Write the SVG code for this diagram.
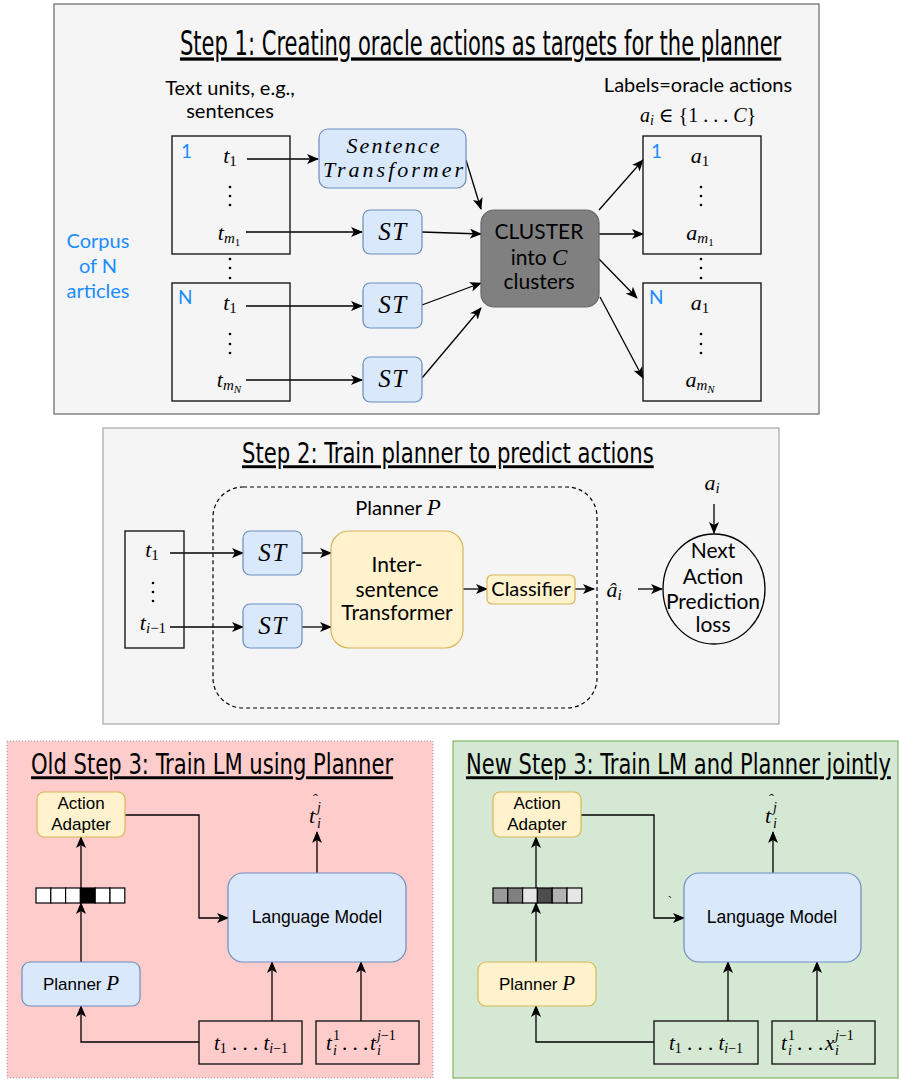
<svg xmlns="http://www.w3.org/2000/svg" width="899" height="1080" viewBox="0 0 899 1080">
<style>
.lato{font-family:Lato,"Liberation Sans",sans-serif;fill:#000}
.ar{font-family:"Liberation Sans",Arial,sans-serif;fill:#000}
.m{font-family:"Liberation Serif","DejaVu Serif",serif;font-style:italic;fill:#000}
.r{font-style:normal}
.blue{fill:#1a8cff}
.title{font-family:"DejaVu Sans Condensed","Liberation Sans Narrow",Roboto,sans-serif;text-decoration:underline;fill:#000}
.ln{stroke:#000;stroke-width:1.3;fill:none}
.blu{fill:#dae8fc;stroke:#6c8ebf;stroke-width:1.2}
.yel{fill:#fff2cc;stroke:#d6b656;stroke-width:1.2}
.box{fill:none;stroke:#1a1a1a;stroke-width:1.4}
.dot{fill:#000}
.st{letter-spacing:1.5px}
</style>
<defs>
<marker id="ah" viewBox="0 0 12 10" refX="11" refY="5" markerUnits="userSpaceOnUse" markerWidth="12" markerHeight="10" orient="auto">
<path d="M0,0 L12,5 L0,10 L3,5 Z" fill="#000"/>
</marker>
</defs>

<!-- Panels -->
<g id="panel1">
<rect x="54" y="4" width="765" height="410" fill="#f5f5f5" stroke="#666" stroke-width="1.2"/>
<text class="title" transform="translate(180,55) scale(0.65,1)" x="0" y="0" font-size="33" textLength="925" lengthAdjust="spacingAndGlyphs">Step 1: Creating oracle actions as targets for the planner</text>
</g>
<g id="panel2">
<rect x="103" y="428" width="676" height="296" fill="#f5f5f5" stroke="#a6a6a6" stroke-width="1.2"/>
<text class="title" transform="translate(242,463) scale(0.73,1)" x="0" y="0" font-size="29" textLength="564" lengthAdjust="spacingAndGlyphs">Step 2: Train planner to predict actions</text>
</g>
<g id="panel3old">
<rect x="7" y="741" width="426" height="337" fill="#ffcccc" stroke="#999" stroke-width="1" stroke-dasharray="1,2"/>
<text class="title" transform="translate(31,774) scale(0.73,1)" x="0" y="0" font-size="29" textLength="496" lengthAdjust="spacingAndGlyphs">Old Step 3: Train LM using Planner</text>
</g>
<g id="panel3new">
<rect x="453" y="741" width="445" height="337" fill="#d5e8d4" stroke="#82b366" stroke-width="1.2"/>
<text class="title" transform="translate(466,774) scale(0.73,1)" x="0" y="0" font-size="29" textLength="582" lengthAdjust="spacingAndGlyphs">New Step 3: Train LM and Planner jointly</text>
</g>

<!-- Connectors -->
<g id="connectors" class="ln">
<line x1="247" y1="159" x2="318" y2="159" marker-end="url(#ah)"/>
<line x1="246" y1="232" x2="362" y2="232" marker-end="url(#ah)"/>
<line x1="246" y1="306" x2="362" y2="306" marker-end="url(#ah)"/>
<line x1="246" y1="380" x2="362" y2="380" marker-end="url(#ah)"/>
<line x1="466" y1="160" x2="481" y2="209" marker-end="url(#ah)"/>
<line x1="422" y1="232" x2="481" y2="234" marker-end="url(#ah)"/>
<line x1="422" y1="305" x2="481" y2="283" marker-end="url(#ah)"/>
<line x1="422" y1="378" x2="481" y2="308" marker-end="url(#ah)"/>
<line x1="599" y1="210" x2="643" y2="160" marker-end="url(#ah)"/>
<line x1="599" y1="234" x2="643" y2="234" marker-end="url(#ah)"/>
<line x1="599" y1="259" x2="637" y2="298" marker-end="url(#ah)"/>
<line x1="600" y1="297" x2="643" y2="378" marker-end="url(#ah)"/>
<line x1="170" y1="553" x2="243" y2="553" marker-end="url(#ah)"/>
<line x1="170" y1="627" x2="243" y2="627" marker-end="url(#ah)"/>
<line x1="302" y1="553" x2="331" y2="553" marker-end="url(#ah)"/>
<line x1="302" y1="627" x2="331" y2="627" marker-end="url(#ah)"/>
<line x1="463" y1="589" x2="487" y2="589" marker-end="url(#ah)"/>
<line x1="575" y1="589" x2="594" y2="589" marker-end="url(#ah)"/>
<line x1="638" y1="589" x2="662" y2="589" marker-end="url(#ah)"/>
<line x1="714" y1="504" x2="714" y2="533" marker-end="url(#ah)"/>
<polyline points="125,815 199,815 199,918 228,918" marker-end="url(#ah)"/>
<line x1="81" y1="962" x2="81" y2="903" marker-end="url(#ah)"/>
<line x1="81" y1="888" x2="81" y2="837" marker-end="url(#ah)"/>
<polyline points="199,1042 81,1042 81,1006" marker-end="url(#ah)"/>
<line x1="272" y1="1021" x2="272" y2="962" marker-end="url(#ah)"/>
<line x1="361" y1="1021" x2="361" y2="962" marker-end="url(#ah)"/>
<line x1="317" y1="873" x2="317" y2="832" marker-end="url(#ah)"/>
<polyline points="581,815 654,815 654,918 684,918" marker-end="url(#ah)"/>
<line x1="536" y1="962" x2="536" y2="903" marker-end="url(#ah)"/>
<line x1="536" y1="888" x2="536" y2="837" marker-end="url(#ah)"/>
<polyline points="654,1042 536,1042 536,1006" marker-end="url(#ah)"/>
<line x1="728" y1="1021" x2="728" y2="962" marker-end="url(#ah)"/>
<line x1="817" y1="1021" x2="817" y2="962" marker-end="url(#ah)"/>
<line x1="773" y1="873" x2="773" y2="832" marker-end="url(#ah)"/>
</g>

<!-- Step 1 nodes -->
<g id="textunits-label">
<text class="lato" x="230" y="95" font-size="20" text-anchor="middle">Text units, e.g.,</text>
<text class="lato" x="230" y="118" font-size="20" text-anchor="middle">sentences</text>
</g>
<g id="corpus-label">
<text class="lato blue" x="98" y="248" font-size="20" text-anchor="middle">Corpus</text>
<text class="lato blue" x="98" y="273" font-size="20" text-anchor="middle">of N</text>
<text class="lato blue" x="98" y="298" font-size="20" text-anchor="middle">articles</text>
</g>
<g id="article1">
<rect class="box" x="172" y="136" width="118" height="118"/>
<text class="lato blue" x="181" y="158" font-size="19">1</text>
<text class="m" x="230" y="163" font-size="22" text-anchor="middle">t<tspan class="r" font-size="15" dy="3">1</tspan></text>
<circle class="dot" cx="230" cy="187" r="1.3"/><circle class="dot" cx="230" cy="196" r="1.3"/><circle class="dot" cx="230" cy="205" r="1.3"/>
<text class="m" x="229" y="240" font-size="22" text-anchor="middle">t<tspan font-size="15" dy="3">m</tspan><tspan class="r" font-size="11" dy="3">1</tspan></text>
</g>
<g id="between-dots">
<circle class="dot" cx="230" cy="259" r="1.3"/><circle class="dot" cx="230" cy="268" r="1.3"/><circle class="dot" cx="230" cy="278" r="1.3"/>
<circle class="dot" cx="701" cy="259" r="1.3"/><circle class="dot" cx="701" cy="268" r="1.3"/><circle class="dot" cx="701" cy="278" r="1.3"/>
</g>
<g id="articleN">
<rect class="box" x="172" y="283" width="118" height="118"/>
<text class="lato blue" x="178" y="304" font-size="19">N</text>
<text class="m" x="230" y="310" font-size="22" text-anchor="middle">t<tspan class="r" font-size="15" dy="3">1</tspan></text>
<circle class="dot" cx="230" cy="334" r="1.3"/><circle class="dot" cx="230" cy="344" r="1.3"/><circle class="dot" cx="230" cy="353" r="1.3"/>
<text class="m" x="229" y="387" font-size="22" text-anchor="middle">t<tspan font-size="15" dy="3">m</tspan><tspan font-size="11" dy="3">N</tspan></text>
</g>
<g id="sentence-transformer">
<rect class="blu" x="319" y="129" width="147" height="59" rx="9"/>
<text class="m" x="393" y="153" font-size="22" text-anchor="middle" textLength="93" lengthAdjust="spacing">Sentence</text>
<text class="m" x="393" y="177" font-size="22" text-anchor="middle" textLength="140" lengthAdjust="spacing">Transformer</text>
</g>
<g id="st1">
<rect class="blu" x="363" y="210" width="59" height="44" rx="7"/>
<text class="m st" x="393" y="240" font-size="25" text-anchor="middle">ST</text>
</g>
<g id="st2">
<rect class="blu" x="363" y="283" width="59" height="45" rx="7"/>
<text class="m st" x="393" y="313" font-size="25" text-anchor="middle">ST</text>
</g>
<g id="st3">
<rect class="blu" x="363" y="357" width="59" height="45" rx="7"/>
<text class="m st" x="393" y="387" font-size="25" text-anchor="middle">ST</text>
</g>
<g id="cluster">
<rect x="481" y="210" width="118" height="97" rx="13" fill="#808080" stroke="#666" stroke-width="1.2"/>
<text class="lato" x="539" y="239" font-size="21" text-anchor="middle" fill="#1a1a1a">CLUSTER</text>
<text class="lato" x="539" y="265" font-size="21" text-anchor="middle">into <tspan class="m" font-size="23">C</tspan></text>
<text class="lato" x="539" y="289" font-size="21" text-anchor="middle">clusters</text>
</g>
<g id="labels-label">
<text class="lato" x="698" y="92" font-size="20" text-anchor="middle">Labels=oracle actions</text>
<text class="m" x="698" y="122" font-size="20" text-anchor="middle">a<tspan font-size="14" dy="3">i</tspan><tspan class="r" dy="-3"> ∈ {1 . . . </tspan>C<tspan class="r">}</tspan></text>
</g>
<g id="labels1">
<rect class="box" x="643" y="136" width="118" height="118"/>
<text class="lato blue" x="651" y="158" font-size="19">1</text>
<text class="m" x="700" y="163" font-size="22" text-anchor="middle">a<tspan class="r" font-size="15" dy="3">1</tspan></text>
<circle class="dot" cx="701" cy="187" r="1.3"/><circle class="dot" cx="701" cy="196" r="1.3"/><circle class="dot" cx="701" cy="205" r="1.3"/>
<text class="m" x="700" y="240" font-size="22" text-anchor="middle">a<tspan font-size="15" dy="3">m</tspan><tspan class="r" font-size="11" dy="3">1</tspan></text>
</g>
<g id="labelsN">
<rect class="box" x="643" y="283" width="118" height="118"/>
<text class="lato blue" x="649" y="304" font-size="19">N</text>
<text class="m" x="700" y="310" font-size="22" text-anchor="middle">a<tspan class="r" font-size="15" dy="3">1</tspan></text>
<circle class="dot" cx="701" cy="334" r="1.3"/><circle class="dot" cx="701" cy="344" r="1.3"/><circle class="dot" cx="701" cy="353" r="1.3"/>
<text class="m" x="700" y="387" font-size="22" text-anchor="middle">a<tspan font-size="15" dy="3">m</tspan><tspan font-size="11" dy="3">N</tspan></text>
</g>

<!-- Step 2 nodes -->
<g id="planner-group">
<rect x="213" y="487" width="384" height="221" rx="30" fill="none" stroke="#000" stroke-width="1.2" stroke-dasharray="4,3"/>
<text class="lato" x="398" y="515" font-size="20" text-anchor="middle">Planner <tspan class="m" font-size="23">P</tspan></text>
</g>
<g id="s2-inputs">
<rect class="box" x="125" y="531" width="59" height="117"/>
<text class="m" x="152" y="557" font-size="22" text-anchor="middle">t<tspan class="r" font-size="15" dy="3">1</tspan></text>
<circle class="dot" cx="153" cy="583" r="1.3"/><circle class="dot" cx="153" cy="592" r="1.3"/><circle class="dot" cx="153" cy="601" r="1.3"/>
<text class="m" x="153" y="630" font-size="22" text-anchor="middle">t<tspan font-size="15" dy="3">i</tspan><tspan class="r" font-size="15">−1</tspan></text>
</g>
<g id="s2-st1">
<rect class="blu" x="243" y="531" width="59" height="44" rx="7"/>
<text class="m st" x="273" y="561" font-size="25" text-anchor="middle">ST</text>
</g>
<g id="s2-st2">
<rect class="blu" x="243" y="604" width="59" height="44" rx="7"/>
<text class="m st" x="273" y="634" font-size="25" text-anchor="middle">ST</text>
</g>
<g id="inter-sentence">
<rect class="yel" x="331" y="531" width="132" height="117" rx="18"/>
<text class="lato" x="397" y="572" font-size="21" text-anchor="middle">Inter-</text>
<text class="lato" x="397" y="597" font-size="21" text-anchor="middle">sentence</text>
<text class="lato" x="397" y="620" font-size="21" text-anchor="middle">Transformer</text>
</g>
<g id="classifier">
<rect class="yel" x="487" y="575" width="88" height="29" rx="5"/>
<text class="lato" x="531" y="596" font-size="20" text-anchor="middle">Classifier</text>
</g>
<g id="ahat">
<text class="m" x="614" y="597" font-size="22" text-anchor="middle">â<tspan font-size="15" dy="3">i</tspan></text>
</g>
<g id="loss">
<ellipse cx="714" cy="589" rx="51" ry="55" fill="none" stroke="#000" stroke-width="1.3"/>
<text class="lato" x="713" y="558" font-size="21" text-anchor="middle">Next</text>
<text class="lato" x="713" y="584" font-size="21" text-anchor="middle">Action</text>
<text class="lato" x="713" y="609" font-size="21" text-anchor="middle">Prediction</text>
<text class="lato" x="713" y="632" font-size="21" text-anchor="middle">loss</text>
</g>
<g id="ai-target">
<text class="m" x="712" y="490" font-size="22" text-anchor="middle">a<tspan font-size="15" dy="3">i</tspan></text>
</g>

<!-- Old step 3 nodes -->
<g id="old-adapter">
<rect class="yel" x="37" y="792" width="88" height="45" rx="7"/>
<text class="ar" x="81" y="809" font-size="17" text-anchor="middle">Action</text>
<text class="ar" x="81" y="830" font-size="17" text-anchor="middle">Adapter</text>
</g>
<g id="old-vector" stroke="#000" stroke-width="1.2">
<rect x="36" y="888" width="14.8" height="15" fill="#fff"/>
<rect x="50.8" y="888" width="14.8" height="15" fill="#fff"/>
<rect x="65.6" y="888" width="14.8" height="15" fill="#fff"/>
<rect x="80.4" y="888" width="14.8" height="15" fill="#000"/>
<rect x="95.2" y="888" width="14.8" height="15" fill="#fff"/>
<rect x="110" y="888" width="14.8" height="15" fill="#fff"/>
</g>
<g id="old-planner">
<rect class="blu" x="22" y="962" width="118" height="44" rx="8"/>
<text class="ar" x="81" y="990" font-size="17" text-anchor="middle">Planner <tspan class="m" font-size="21">P</tspan></text>
</g>
<g id="old-lm">
<rect class="blu" x="228" y="873" width="178" height="89" rx="15"/>
<text class="ar" x="317" y="923" font-size="17.5" text-anchor="middle">Language Model</text>
</g>
<g id="old-out">
<text class="m" x="309" y="823" font-size="22">t</text>
<text class="m" x="317" y="812" font-size="14">j</text>
<text class="m" x="317" y="828" font-size="14">i</text>
<text class="m r" x="313" y="804" font-size="15">ˆ</text>
</g>
<g id="old-in1">
<rect class="box" x="199" y="1021" width="103" height="43"/>
<text class="m" x="251" y="1050" font-size="21" text-anchor="middle">t<tspan class="r" font-size="14" dy="3">1</tspan><tspan class="r" dy="-3"> . . . </tspan>t<tspan font-size="14" dy="3">i</tspan><tspan class="r" font-size="14">−1</tspan></text>
</g>
<g id="old-in2">
<rect class="box" x="316" y="1021" width="103" height="43"/>
<text class="m" x="326" y="1050" font-size="21">t</text>
<text class="r m" x="333" y="1040" font-size="14">1</text>
<text class="m" x="333" y="1055" font-size="14">i</text>
<text class="r m" x="342" y="1050" font-size="21">. . . </text>
<text class="m" x="370" y="1050" font-size="21">t</text>
<text class="m" x="377" y="1040" font-size="14">j<tspan class="r">−1</tspan></text>
<text class="m" x="377" y="1055" font-size="14">i</text>
</g>

<!-- New step 3 nodes -->
<g id="new-adapter">
<rect class="yel" x="493" y="792" width="88" height="45" rx="7"/>
<text class="ar" x="537" y="809" font-size="17" text-anchor="middle">Action</text>
<text class="ar" x="537" y="830" font-size="17" text-anchor="middle">Adapter</text>
</g>
<g id="new-vector" stroke="#000" stroke-width="1.2">
<rect x="493" y="888" width="14.8" height="15" fill="#999"/>
<rect x="507.8" y="888" width="14.8" height="15" fill="#808080"/>
<rect x="522.6" y="888" width="14.8" height="15" fill="#e6e6e6"/>
<rect x="537.4" y="888" width="14.8" height="15" fill="#4d4d4d"/>
<rect x="552.2" y="888" width="14.8" height="15" fill="#b3b3b3"/>
<rect x="567" y="888" width="14.8" height="15" fill="#e6e6e6"/>
</g>
<g id="new-planner">
<rect class="yel" x="478" y="962" width="118" height="44" rx="8"/>
<text class="ar" x="537" y="990" font-size="17" text-anchor="middle">Planner <tspan class="m" font-size="21">P</tspan></text>
</g>
<g id="new-lm">
<rect class="blu" x="684" y="873" width="177" height="89" rx="15"/>
<text class="ar" x="772" y="923" font-size="17.5" text-anchor="middle">Language Model</text>
<text class="ar" x="668" y="906" font-size="12">`</text>
</g>
<g id="new-out">
<text class="m" x="765" y="823" font-size="22">t</text>
<text class="m" x="773" y="812" font-size="14">j</text>
<text class="m" x="773" y="828" font-size="14">i</text>
<text class="m r" x="769" y="804" font-size="15">ˆ</text>
</g>
<g id="new-in1">
<rect class="box" x="654" y="1021" width="104" height="43"/>
<text class="m" x="706" y="1050" font-size="21" text-anchor="middle">t<tspan class="r" font-size="14" dy="3">1</tspan><tspan class="r" dy="-3"> . . . </tspan>t<tspan font-size="14" dy="3">i</tspan><tspan class="r" font-size="14">−1</tspan></text>
</g>
<g id="new-in2">
<rect class="box" x="772" y="1021" width="103" height="43"/>
<text class="m" x="781" y="1050" font-size="21">t</text>
<text class="r m" x="788" y="1040" font-size="14">1</text>
<text class="m" x="788" y="1055" font-size="14">i</text>
<text class="r m" x="797" y="1050" font-size="21">. . . </text>
<text class="m" x="825" y="1050" font-size="21">x</text>
<text class="m" x="835" y="1040" font-size="14">j<tspan class="r">−1</tspan></text>
<text class="m" x="835" y="1055" font-size="14">i</text>
</g>
</svg>
